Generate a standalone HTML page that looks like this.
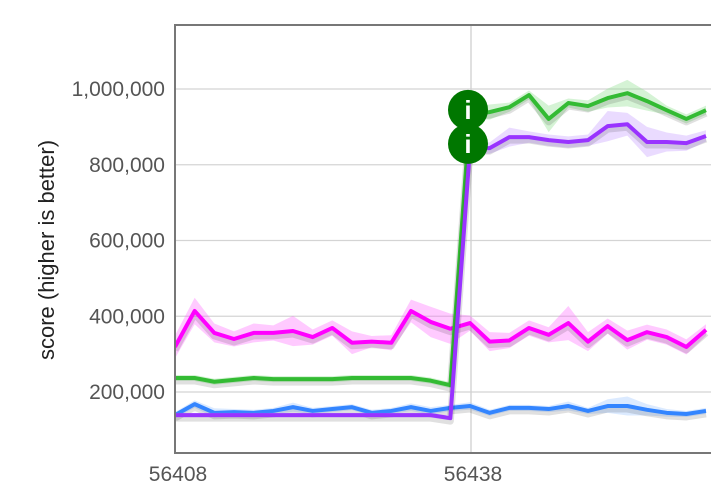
<!DOCTYPE html>
<html><head><meta charset="utf-8">
<style>
html,body{margin:0;padding:0;background:#fff;}
svg{display:block;font-family:"Liberation Sans",Arial,sans-serif;}
</style></head>
<body>
<svg id="chart" width="711" height="495" viewBox="0 0 711 495" xmlns="http://www.w3.org/2000/svg">
<defs><clipPath id="plotclip"><rect x="176" y="26" width="540" height="427"/></clipPath></defs>
<g id="grid"></g>
<g id="series" clip-path="url(#plotclip)"></g>
<g id="axes"></g>
<text transform="translate(54,250) rotate(-90)" text-anchor="middle" font-size="22" fill="#222">score (higher is better)</text>
</svg>
<script>
const xTicks = [56408, 56438];
const yTicks = [200000, 400000, 600000, 800000, 1000000];
const yTickLabels = ["200,000", "400,000", "600,000", "800,000", "1,000,000"];
const commits = [56408,56410,56412,56414,56416,56418,56420,56422,56424,56426,56428,56430,56432,56434,56436,56438,56440,56442,56444,56446,56448,56450,56452,56454,56456,56458,56460,56462];
const pinkValues = [319,414,356,340,356,356,361,345,369,330,333,330,414,385,367,382,333,336,369,351,382,333,374,337,358,345,319,364];
const pinkSpread = [30,35,25,20,25,20,40,20,20,30,15,20,30,40,40,20,25,20,20,20,45,25,20,25,20,20,20,15];
const greenValues = [237,237,227,232,237,234,234,234,234,237,237,237,237,230,218,936,939,952,984,921,963,955,976,989,968,944,921,944];
const greenSpread = [8,8,8,8,8,8,8,8,8,8,8,8,8,8,8,15,20,12,12,35,12,15,25,35,25,12,12,12];
const purpleValues = [139,139,139,139,139,139,139,139,139,139,139,139,139,139,131,844,844,873,873,865,860,865,902,907,860,860,857,876];
const purpleSpread = [6,6,6,6,6,6,6,6,6,6,6,6,6,6,6,15,15,25,15,15,15,15,40,30,40,25,20,15];
const blueValues = [139,168,145,147,145,150,160,150,155,160,145,150,160,150,158,163,145,158,158,155,163,150,163,163,153,145,142,150];
const blueSpread = [8,10,12,8,8,8,12,8,8,8,8,8,10,10,8,10,8,8,8,8,12,8,18,25,15,10,8,8];
const annotationCommit = 56438;
const annotationValues = [945, 855];

const NS = "http://www.w3.org/2000/svg";
const plotL = 175, plotR = 711, plotT = 25, plotB = 453;
function xs(v){ return 175 + (v - 56408) * (295 / 30); }
function ys(v){ return 467.75 - v / 200000 * 75.75; }
function mk(tag, attrs, parent){ const e = document.createElementNS(NS, tag); for (const k in attrs) e.setAttribute(k, attrs[k]); parent.appendChild(e); return e; }
const grid = document.getElementById('grid');
const axes = document.getElementById('axes');
const ser = document.getElementById('series');

yTicks.forEach((t, i) => {
  const g = mk('line', {x1: plotL, x2: plotR, y1: ys(t), y2: ys(t), stroke: '#d4d4d4', 'stroke-width': 1.3}, grid);
  
  
  const tx = mk('text', {x: 165, y: ys(t) + 7, 'text-anchor': 'end', 'font-size': 21, fill: '#555'}, axes);
  tx.textContent = yTickLabels[i];
  
  
});
xTicks.forEach((t) => {
  if (t !== 56408) {
    const g = mk('line', {x1: xs(t) + 1, x2: xs(t) + 1, y1: plotT, y2: plotB, stroke: '#d0d0d0', 'stroke-width': 1.3}, grid);
    
    
  }
  const tx = mk('text', {x: xs(t) + 3, y: 481, 'text-anchor': 'middle', 'font-size': 21, fill: '#555'}, axes);
  tx.textContent = String(t);
  
  
});
const frame = mk('path', {d: `M${plotR+5},${plotT} H${plotL} V${plotB} H${plotR+5}`, fill: 'none', stroke: '#777', 'stroke-width': 2}, axes);



function drawSeries(name, vals, spread, color, bandColor){
  const pts = commits.map((c, i) => [xs(c), ys(vals[i] * 1000)]);
  const up = commits.map((c, i) => [xs(c), ys((vals[i] + spread[i]) * 1000)]);
  const lo = commits.map((c, i) => [xs(c), ys((vals[i] - spread[i]) * 1000)]);
  const band = mk('path', {d: 'M' + up.map(p => p.join(',')).join(' L') + ' L' + lo.reverse().map(p => p.join(',')).join(' L') + ' Z', fill: bandColor, opacity: 0.35}, ser);
  
  
  const d = 'M' + pts.map(p => p.join(',')).join(' L');
  const sh = mk('path', {d: d, fill: 'none', stroke: 'rgba(0,0,0,0.12)', 'stroke-width': 7, transform: 'translate(0,3)', 'stroke-linejoin': 'round'}, ser);
  
  
  const ln = mk('path', {d: d, fill: 'none', stroke: color, 'stroke-width': 4, 'stroke-linejoin': 'round'}, ser);
  
  
}
drawSeries('pink-series', pinkValues, pinkSpread, '#ff00ff', '#ff66ff');
drawSeries('blue-series', blueValues, blueSpread, '#3385ff', '#99c2ff');
drawSeries('green-series', greenValues, greenSpread, '#33bb33', '#88dd88');
drawSeries('purple-series', purpleValues, purpleSpread, '#9933ff', '#c299ff');

annotationValues.forEach((v) => {
  const cx = xs(annotationCommit) - 2, cy = ys(v * 1000);
  const c = mk('circle', {cx: cx, cy: cy, r: 20, fill: '#007700'}, ser);
  
  
  const t = mk('text', {x: cx, y: cy + 9, 'text-anchor': 'middle', 'font-size': 26, 'font-weight': 'bold', fill: '#fff'}, ser);
  t.textContent = 'i';
  
  
});
</script>
</body></html>
